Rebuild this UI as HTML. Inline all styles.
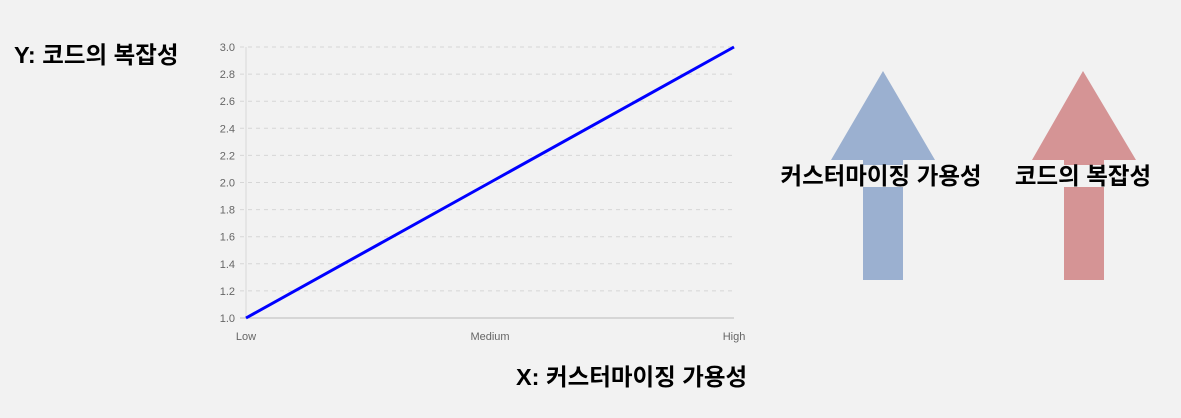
<!DOCTYPE html>
<html><head><meta charset="utf-8"><style>
body{margin:0;width:1181px;height:418px;background:#f2f2f2;overflow:hidden;position:relative;font-family:"Liberation Sans","Noto Sans CJK KR",sans-serif}
.t{position:absolute;font-weight:bold;font-size:23.5px;color:#000;white-space:nowrap;font-family:"Liberation Sans","Noto Sans CJK KR",sans-serif;line-height:30px}
.lbl{position:absolute;font-weight:bold;font-size:23.5px;background:#f2f2f2;line-height:22px;white-space:nowrap;transform:translateX(-50%);font-family:"Liberation Sans","Noto Sans CJK KR",sans-serif}
</style></head><body>
<div class="t" style="left:14px;top:40px">Y: 코드의 복잡성</div>
<div class="t" style="left:516px;top:362px">X: 커스터마이징 가용성</div>
<svg id="chart" width="1181" height="418" style="position:absolute;left:0;top:0">
<polygon points="883,71 935,160 903,160 903,280 863,280 863,160 831,160" fill="#9bb0d0"/>
<polygon points="1083,71 1136,160 1104,160 1104,280 1064,280 1064,160 1032,160" fill="#d59495"/>
</svg>
<div class="lbl" style="left:881px;top:165px">커스터마이징 가용성</div>
<div class="lbl" style="left:1083px;top:165px">코드의 복잡성</div>
<script>
const categories=["Low","Medium","High"];
const values=[1,2,3];
const yTicks=[1.0,1.2,1.4,1.6,1.8,2.0,2.2,2.4,2.6,2.8,3.0];
const svg=document.getElementById('chart');
const NS='http://www.w3.org/2000/svg';
const x0=246,x1=734,yb=318,yt=47,ymin=1,ymax=3;
const xs=i=>x0+(x1-x0)*i/(categories.length-1);
const ys=v=>yb-(v-ymin)/(ymax-ymin)*(yb-yt);
function mk(t,a){const e=document.createElementNS(NS,t);for(const k in a)e.setAttribute(k,a[k]);svg.appendChild(e);return e;}
const ax=mk('line',{x1:x0,y1:yt,x2:x0,y2:yb,stroke:'#d8d8d8'});


yTicks.forEach(v=>{
 const g=mk('line',{x1:x0-6,x2:x1,y1:ys(v),y2:ys(v),stroke:v===ymin?'#bbb':'#d6d6d6','stroke-dasharray':v===ymin?'':'4,4'});
 
 
 const t=mk('text',{x:x0-11,y:ys(v)+4,'text-anchor':'end','font-size':'11','fill':'#666','font-family':'Liberation Sans, sans-serif'});
 t.textContent=v.toFixed(1);
 
 
});
categories.forEach((c,i)=>{
 const t=mk('text',{x:xs(i),y:340,'text-anchor':'middle','font-size':'11','fill':'#666','font-family':'Liberation Sans, sans-serif'});
 t.textContent=c;
 
 
});
const pts=values.map((v,i)=>xs(i)+','+ys(v)).join(' ');
const l=mk('polyline',{points:pts,fill:'none',stroke:'#0000ff','stroke-width':3});


</script>
</body></html>
